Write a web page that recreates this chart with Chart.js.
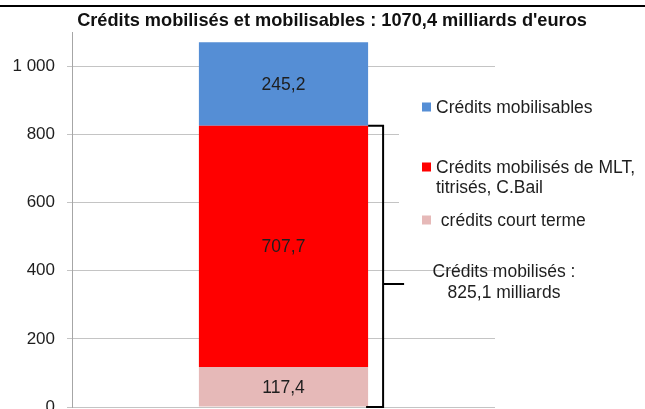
<!DOCTYPE html>
<html lang="fr">
<head>
<meta charset="utf-8">
<title>Crédits mobilisés et mobilisables</title>
<style>
  html, body { margin: 0; padding: 0; background: #fff; overflow: hidden; }
  #wrap { position: relative; width: 645px; height: 409px; overflow: hidden; }
  #topline { position: absolute; left: 0; top: 5px; width: 645px; height: 2px; background: #000; }
  canvas { position: absolute; left: 0; top: 0; }
</style>
</head>
<body>
<div id="wrap">
  <canvas id="chart" width="645" height="430"></canvas>
  <div id="topline"></div>
</div>

<script src="https://cdn.jsdelivr.net/npm/chart.js"></script>
<script>

// data (milliards d'euros)
const categories = ['Crédits'];
const seriesNames = [' crédits court terme', 'Crédits mobilisés de MLT,\ntitrisés, C.Bail', 'Crédits mobilisables'];
const courtTerme = [117.4];
const mobilisesMLT = [707.7];
const mobilisables = [245.2];
const yTicks = [0, 200, 400, 600, 800, 1000];
const titleText = "Crédits mobilisés et mobilisables : 1070,4 milliards d'euros";

const colors = ['#e6b9b8', '#ff0000', '#558ed5'];
const textColor = '#1e1e1e';
const font = 'Liberation Sans, Arial, sans-serif';

function frNumber(v) {
    return v.toFixed(1).replace('.', ',');
}

function thousands(v) {
    return String(v).replace(/\B(?=(\d{3})+(?!\d))/g, ' ');
}

// title, value labels, bracket and legend drawn on top of the chart
const extras = {
    id: 'extras',
    afterDatasetsDraw(chart) {
        const ctx = chart.ctx;
        const y = chart.scales.y;
        ctx.save();

        // values in the middle of each segment
        ctx.font = '17.5px ' + font;
        ctx.fillStyle = textColor;
        ctx.textAlign = 'center';
        ctx.textBaseline = 'middle';
        chart.data.datasets.forEach(function(ds, i) {
            const el = chart.getDatasetMeta(i).data[0];
            ctx.fillText(frNumber(ds.data[0]), el.x, (el.y + el.base) / 2 + 1);
        });

        // bracket around the mobilised credits
        const bar = chart.getDatasetMeta(1).data[0];
        const right = bar.x + bar.width / 2;
        const mobilised = courtTerme[0] + mobilisesMLT[0];
        const top = y.getPixelForValue(mobilised);
        const bottom = y.getPixelForValue(0);
        const bx = right + 15;
        const tickY = 284;
        ctx.strokeStyle = '#000';
        ctx.lineWidth = 2;
        ctx.beginPath();
        ctx.moveTo(right, top);
        ctx.lineTo(bx, top);
        ctx.lineTo(bx, bottom);
        ctx.lineTo(right - 2, bottom);
        ctx.moveTo(bx, tickY);
        ctx.lineTo(bx + 21, tickY);
        ctx.stroke();

        ctx.font = '17.5px ' + font;
        ctx.fillStyle = textColor;
        ctx.fillText('Crédits mobilisés :', 504, 272);
        ctx.fillText(frNumber(mobilised) + ' milliards', 504, 293);
        ctx.restore();
    },
    afterDraw(chart) {
        const ctx = chart.ctx;
        ctx.save();

        // title
        ctx.font = 'bold 18.2px ' + font;
        ctx.fillStyle = '#111';
        ctx.textAlign = 'center';
        ctx.textBaseline = 'middle';
        ctx.fillText(titleText, 332, 21);

        // legend on a white box
        ctx.fillStyle = '#fff';
        ctx.fillRect(399, 92, 246, 142);
        const rowY = [220, 167, 107];
        ctx.font = '17.5px ' + font;
        ctx.textAlign = 'left';
        for (let i = chart.data.datasets.length - 1; i >= 0; i--) {
            const ds = chart.data.datasets[i];
            ctx.fillStyle = ds.backgroundColor;
            ctx.fillRect(422, rowY[i] - 4.5, 9, 9);
            ctx.fillStyle = textColor;
            ds.label.split('\n').forEach(function(line, k) {
                ctx.fillText(line, 436, rowY[i] + 1 + k * 20);
            });
        }
        ctx.restore();
    }
};

new Chart(document.getElementById('chart'), {
    type: 'bar',
    data: {
        labels: categories,
        datasets: [
            { label: seriesNames[0], data: courtTerme, backgroundColor: colors[0] },
            { label: seriesNames[1], data: mobilisesMLT, backgroundColor: colors[1] },
            { label: seriesNames[2], data: mobilisables, backgroundColor: colors[2] }
        ]
    },
    options: {
        responsive: false,
        animation: false,
        layout: { padding: { top: 32, right: 150, bottom: 23, left: 0 } },
        datasets: {
            bar: { categoryPercentage: 1, barPercentage: 0.4, borderWidth: 0 }
        },
        plugins: {
            legend: { display: false },
            title: { display: false },
            tooltip: { enabled: false }
        },
        scales: {
            x: { stacked: true, display: false },
            y: {
                stacked: true,
                min: 0,
                max: 1100,
                afterBuildTicks: function(scale) {
                    scale.ticks = yTicks.map(function(v) { return { value: v }; });
                },
                afterFit: function(scale) { scale.width = 72; },
                border: { color: '#a6a6a6', width: 1 },
                grid: { color: '#c4c4c4', tickLength: 5 },
                ticks: {
                    padding: 12,
                    color: textColor,
                    font: { family: font, size: 17 },
                    callback: function(v) { return thousands(v); }
                }
            }
        }
    },
    plugins: [extras]
});

</script>
</body>
</html>
